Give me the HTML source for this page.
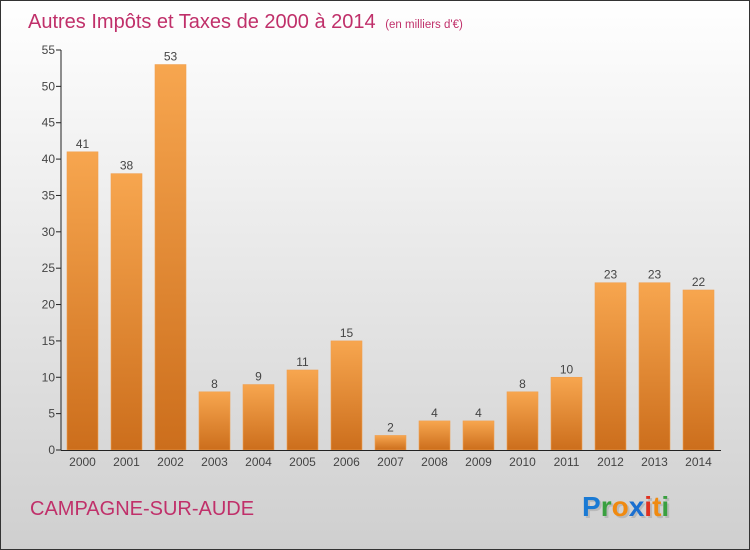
<!DOCTYPE html>
<html><head><meta charset="utf-8"><style>
body{margin:0;}
#wrap{width:750px;height:550px;position:relative;overflow:hidden;font-family:"Liberation Sans",sans-serif;}
</style></head><body>
<div id="wrap">
<svg id="chart" width="750" height="550" xmlns="http://www.w3.org/2000/svg">
<defs>
<linearGradient id="bg" x1="0" y1="0" x2="0" y2="1"><stop offset="0" stop-color="#ffffff"/><stop offset="1" stop-color="#cfcfcf"/></linearGradient>
<linearGradient id="bar" x1="0" y1="0" x2="0" y2="1"><stop offset="0" stop-color="#f7a64f"/><stop offset="1" stop-color="#cc6e1c"/></linearGradient>
</defs>
<rect x="0.5" y="0.5" width="749" height="549" fill="url(#bg)" stroke="#333"/>
<text x="28" y="28" font-size="20" fill="#c0306a">Autres Impôts et Taxes de 2000 à 2014 <tspan font-size="11.5" dx="4">(en milliers d'€)</tspan></text>
<g id="plot"></g>
<text x="30" y="515" font-size="20" fill="#c0306a">CAMPAGNE-SUR-AUDE</text>
<g font-size="28" font-weight="bold">
<text x="584" y="518" fill="#aaa" opacity="0.6">Proxiti</text>
<text x="582" y="516"><tspan fill="#1a7ad4">P</tspan><tspan fill="#3aa040">r</tspan><tspan fill="#f08a10">o</tspan><tspan fill="#1a6fd0">x</tspan><tspan fill="#e03020">i</tspan><tspan fill="#f08a10">t</tspan><tspan fill="#3aa040">i</tspan></text>
</g>
</svg>
</div>
<script>
const years=["2000","2001","2002","2003","2004","2005","2006","2007","2008","2009","2010","2011","2012","2013","2014"];
const values=[41,38,53,8,9,11,15,2,4,4,8,10,23,23,22];
const ticks=[0,5,10,15,20,25,30,35,40,45,50,55];
const NS="http://www.w3.org/2000/svg";
const g=document.getElementById('plot');
const x0=61,bandW=44,barW=31,y0=450,yMax=55,ph=400;
function y(v){return y0-v/yMax*ph;}
function xb(i){return x0+i*bandW+6;}
function mk(t,a){const e=document.createElementNS(NS,t);for(const k in a)e.setAttribute(k,a[k]);g.appendChild(e);return e;}
values.forEach((v,i)=>{
 const r=mk('rect',{x:xb(i),y:y(v),width:barW,height:y0-y(v),fill:'url(#bar)',stroke:'#f0a050','stroke-width':0.6});
 
 
 const t=mk('text',{x:xb(i)+barW/2,y:y(v)-4,'font-size':12,fill:'#444','text-anchor':'middle'});t.textContent=v;
 
 
 const xl=mk('text',{x:xb(i)+barW/2,y:466,'font-size':12,fill:'#444','text-anchor':'middle'});xl.textContent=years[i];
 
 
});
ticks.forEach(v=>{
 const l=mk('line',{x1:56,x2:61,y1:y(v),y2:y(v),stroke:'#222'});
 
 
 const t=mk('text',{x:55,y:y(v)+4,'font-size':12,fill:'#444','text-anchor':'end'});t.textContent=v;
 
 
});
const ya=mk('line',{x1:61,x2:61,y1:50,y2:450,stroke:'#222'});


const xa=mk('line',{x1:61,x2:721,y1:450.5,y2:450.5,stroke:'#222'});


</script>
</body></html>
